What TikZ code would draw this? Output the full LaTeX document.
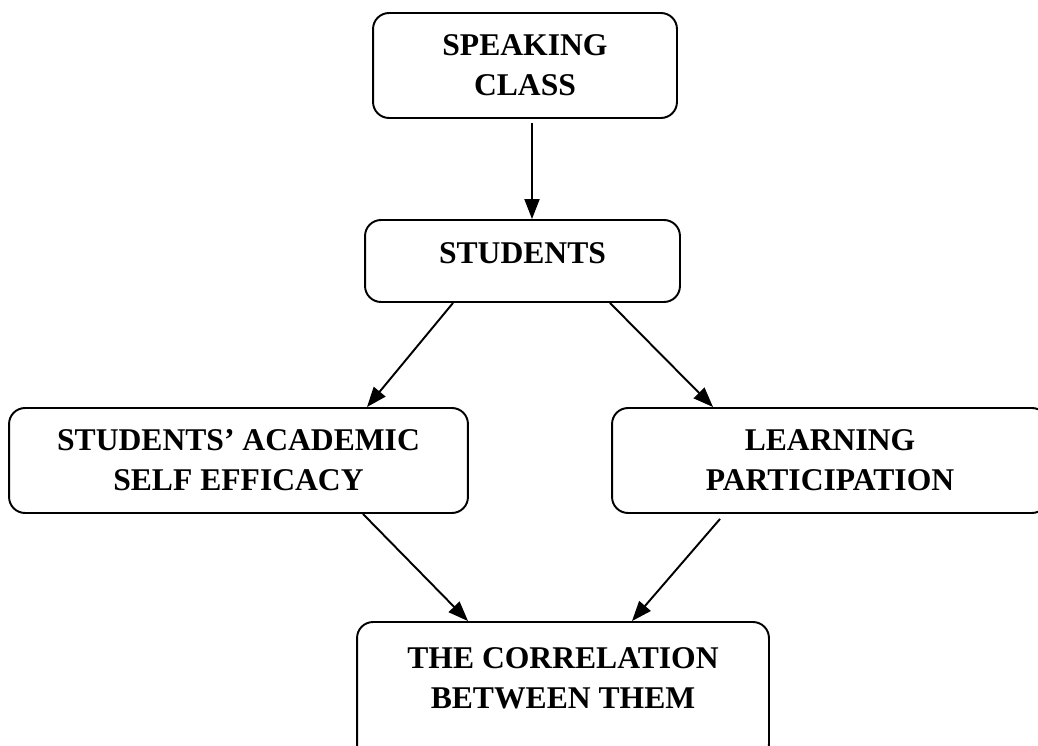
\documentclass[tikz,border=0pt]{standalone}
\usepackage{fontspec}
\setmainfont{Liberation Serif}
\usetikzlibrary{arrows.meta}
\tikzset{
  box/.style={draw=black, line width=1.1pt, rounded corners=0.32cm, align=center,
    inner sep=0pt, font=\fontsize{18pt}{22.76pt}\selectfont\bfseries},
  arr/.style={draw=black, line width=1.1pt, -{Triangle[length=0.4cm,width=0.3cm]}}
}
\begin{document}
\begin{tikzpicture}[x=0.02cm, y=-0.02cm]
\useasboundingbox (0,0) rectangle (1038,746);
\clip (0,0) rectangle (1038,746);
\node[box, minimum width=6.08cm, minimum height=2.1cm] (sc) at (525,65.5) {SPEAKING\\CLASS};
\node[box, minimum width=6.3cm, minimum height=1.64cm, text height=0.42cm, text depth=0.32cm] (st) at (522.5,261) {STUDENTS};
\node[box, minimum width=9.18cm, minimum height=2.1cm] (sae) at (238.5,460.5) {STUDENTS’ ACADEMIC\\SELF EFFICACY};
\node[box, minimum width=8.72cm, minimum height=2.1cm] (lp) at (830,460.5) {LEARNING\\PARTICIPATION};
\node[box, minimum width=8.24cm, minimum height=2.76cm, text height=1.22cm, text depth=0.52cm] (cor) at (563,691) {THE CORRELATION\\BETWEEN THEM};
\draw[arr] ([xshift=0.14cm,yshift=-0.08cm]sc.south) -- ([xshift=0.14cm]sc.south |- st.north);
\draw[arr] ([xshift=-1.39cm]st.south) -- ([xshift=2.57cm]sae.north);
\draw[arr] ([xshift=1.75cm]st.south) -- ([xshift=-2.34cm]lp.north);
\draw[arr] ([xshift=2.49cm]sae.south) -- ([xshift=-1.9cm]cor.north);
\draw[arr] ([xshift=-2.2cm,yshift=-0.1cm]lp.south) -- ([xshift=1.38cm]cor.north);
\end{tikzpicture}
\end{document}
